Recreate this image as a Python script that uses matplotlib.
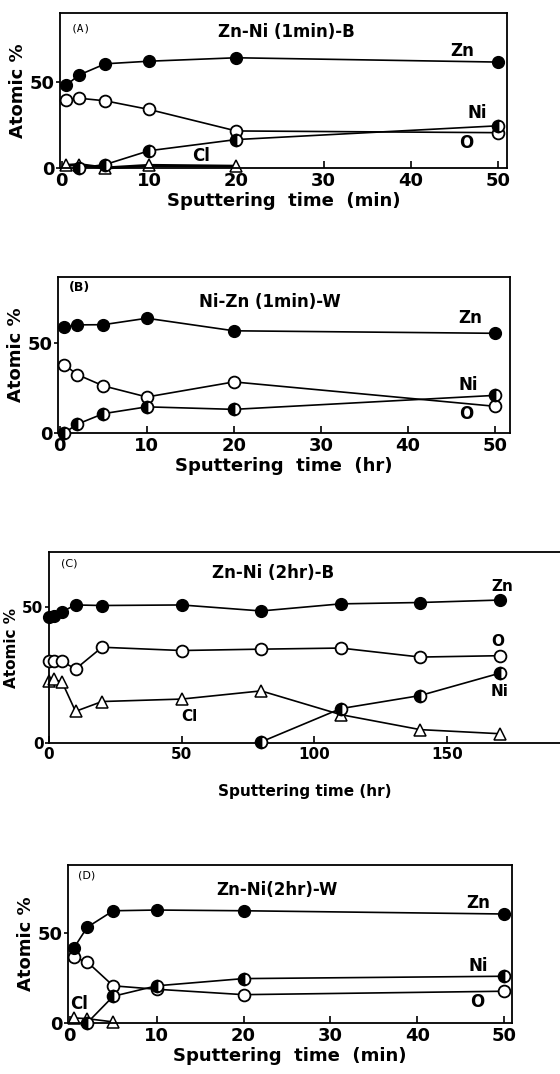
import matplotlib
matplotlib.use("Agg")
import matplotlib.pyplot as plt

plt.rcParams['font.family'] = ['DejaVu Sans']
plt.rcParams['font.weight'] = 'bold'

# panel A : Zn-Ni (1min)-B
a_x = [0.5, 2, 5, 10, 20, 50]
a_zn = [48, 54, 60.5, 62, 64, 61.5]
a_o = [39.5, 40.5, 39, 34, 21.5, 20.5]
a_ni_x = [2, 5, 10, 20, 50]
a_ni = [0, 2, 10, 16.5, 24.5]
a_cl_x = [0.5, 2, 5, 10, 20]
a_cl = [1.5, 2, 0, 1.5, 1]

# panel B : Ni-Zn (1min)-W
b_x = [0.5, 2, 5, 10, 20, 50]
b_zn = [59, 60.3, 60.4, 64, 57, 55.6]
b_o = [38.2, 32.6, 26.3, 20.1, 28.5, 14.9]
b_ni = [0, 4.9, 10.8, 14.6, 13.2, 21]

# panel C : Zn-Ni (2hr)-B
c_x = [0, 2, 5, 10, 20, 50, 80, 110, 140, 170]
c_zn = [46.1, 46.6, 48.2, 50.6, 50.4, 50.6, 48.4, 51, 51.5, 52.4]
c_o = [29.9, 30.2, 29.9, 27.1, 35.1, 33.9, 34.4, 34.8, 31.5, 32]
c_cl = [22.6, 23.4, 22.2, 11.6, 15.2, 16.1, 19.1, 10.4, 4.9, 3.4]
c_ni_x = [80, 110, 140, 170]
c_ni = [0.4, 12.6, 17.4, 25.6]

# panel D : Zn-Ni(2hr)-W
d_x = [0.5, 2, 5, 10, 20, 50]
d_zn = [41.7, 53, 62.2, 62.6, 62.2, 60.4]
d_o = [36.3, 33.9, 20.6, 18.7, 15.7, 17.6]
d_ni_x = [2, 5, 10, 20, 50]
d_ni = [0, 14.8, 20.6, 24.6, 25.9]
d_cl_x = [0.5, 2, 5]
d_cl = [2.8, 2.4, 0.6]

fig = plt.figure(figsize=(5.6, 10.74), dpi=100)

ms = 8.5
lw = 1.2


def zn(ax, x, y):
    ax.plot(x, y, '-', color='black', lw=lw, marker='o', ms=ms, mfc='black',
            mec='black', clip_on=False, zorder=4)


def oxy(ax, x, y):
    ax.plot(x, y, '-', color='black', lw=lw, marker='o', ms=ms, mfc='white',
            mec='black', mew=1.3, clip_on=False, zorder=3)


def ni(ax, x, y):
    ax.plot(x, y, '-', color='black', lw=lw, marker='o', ms=ms, fillstyle='left',
            mfc='black', mfcalt='white', mec='black', mew=1.3, clip_on=False, zorder=5)


def cl(ax, x, y, lw_=lw):
    ax.plot(x, y, '-', color='black', lw=lw_, marker='^', ms=ms, mfc='white',
            mec='black', mew=1.1, clip_on=False, zorder=2)


def style(ax, xlim, ylim, xticks, xlabel, labsize=13):
    ax.set_xlim(*xlim)
    ax.set_ylim(*ylim)
    ax.set_xticks(xticks)
    ax.set_yticks([0, 50])
    ax.tick_params(axis='x', direction='in', length=5, width=1.2, labelsize=labsize, pad=3)
    ax.tick_params(axis='y', direction='out', length=3, width=1.2, labelsize=labsize, pad=1)
    for lab in ax.get_xticklabels() + ax.get_yticklabels():
        lab.set_fontweight('heavy')
    for s in ax.spines.values():
        s.set_linewidth(1.3)
    ax.set_ylabel('Atomic %', fontsize=13, fontweight='heavy', labelpad=2)
    ax.set_xlabel(xlabel, fontsize=13, fontweight='heavy', labelpad=1)


# ---- A ----
ax = fig.add_axes([0.107, 0.8436, 0.798, 0.1443])
cl(ax, a_cl_x, a_cl, 2.2)
oxy(ax, a_x, a_o)
ni(ax, a_ni_x, a_ni)
zn(ax, a_x, a_zn)
style(ax, (-0.2, 51), (0, 90), [0, 10, 20, 30, 40, 50], 'Sputtering  time  (min)')
ax.text(1.0, 81, '(A)', fontsize=8, fontweight='normal', family='DejaVu Sans Mono', va='center')
ax.text(25.8, 79, 'Zn-Ni (1min)-B', fontsize=12, fontweight='heavy', ha='center', va='center')
ax.text(45.9, 68, 'Zn', fontsize=12, fontweight='heavy', ha='center', va='center')
ax.text(47.6, 31.7, 'Ni', fontsize=12, fontweight='heavy', ha='center', va='center')
ax.text(46.3, 14.4, 'O', fontsize=12, fontweight='heavy', ha='center', va='center')
ax.text(16, 6.7, 'Cl', fontsize=12, fontweight='heavy', ha='center', va='center')

# ---- B ----
ax = fig.add_axes([0.1036, 0.5968, 0.807, 0.1453])
oxy(ax, b_x, b_o)
ni(ax, b_x, b_ni)
zn(ax, b_x, b_zn)
style(ax, (-0.2, 51.7), (0, 87), [0, 10, 20, 30, 40, 50], 'Sputtering  time  (hr)')
ax.text(1.0, 81, '(B)', fontsize=9, fontweight='bold', va='center')
ax.text(24.1, 73.3, 'Ni-Zn (1min)-W', fontsize=12, fontweight='heavy', ha='center', va='center')
ax.text(47.1, 64, 'Zn', fontsize=12, fontweight='heavy', ha='center', va='center')
ax.text(46.9, 26.7, 'Ni', fontsize=12, fontweight='heavy', ha='center', va='center')
ax.text(46.7, 10.8, 'O', fontsize=12, fontweight='heavy', ha='center', va='center')

# ---- C ----
ax = fig.add_axes([0.0875, 0.3082, 0.9125, 0.1778])
cl(ax, c_x, c_cl)
oxy(ax, c_x, c_o)
ni(ax, c_ni_x, c_ni)
zn(ax, c_x, c_zn)
style(ax, (0, 192.7), (0, 70), [0, 50, 100, 150], 'Sputtering time (hr)', labsize=11)
ax.spines['right'].set_visible(False)
ax.xaxis.labelpad = 16
ax.xaxis.label.set_fontsize(11)
ax.yaxis.label.set_fontsize(11)
ax.text(4.7, 65.9, '(C)', fontsize=8, fontweight='normal', va='center')
ax.text(84.5, 62.2, 'Zn-Ni (2hr)-B', fontsize=12, fontweight='heavy', ha='center', va='center')
ax.text(171, 57.3, 'Zn', fontsize=11, fontweight='heavy', ha='center', va='center')
ax.text(169.4, 37.2, 'O', fontsize=11, fontweight='heavy', ha='center', va='center')
ax.text(170, 18.9, 'Ni', fontsize=11, fontweight='heavy', ha='center', va='center')
ax.text(53, 9.8, 'Cl', fontsize=11, fontweight='heavy', ha='center', va='center')

# ---- D ----
ax = fig.add_axes([0.1214, 0.0475, 0.793, 0.147])
cl(ax, d_cl_x, d_cl)
oxy(ax, d_x, d_o)
ni(ax, d_ni_x, d_ni)
zn(ax, d_x, d_zn)
style(ax, (-0.2, 50.9), (0, 87.5), [0, 10, 20, 30, 40, 50], 'Sputtering  time  (min)')
ax.text(1.0, 82, '(D)', fontsize=8, fontweight='normal', va='center')
ax.text(23.8, 73.7, 'Zn-Ni(2hr)-W', fontsize=12, fontweight='heavy', ha='center', va='center')
ax.text(47, 66.3, 'Zn', fontsize=12, fontweight='heavy', ha='center', va='center')
ax.text(47, 31.5, 'Ni', fontsize=12, fontweight='heavy', ha='center', va='center')
ax.text(46.9, 11.7, 'O', fontsize=12, fontweight='heavy', ha='center', va='center')
ax.text(1.1, 10.7, 'Cl', fontsize=12, fontweight='heavy', ha='center', va='center')

fig.savefig('out.png', dpi=100)
